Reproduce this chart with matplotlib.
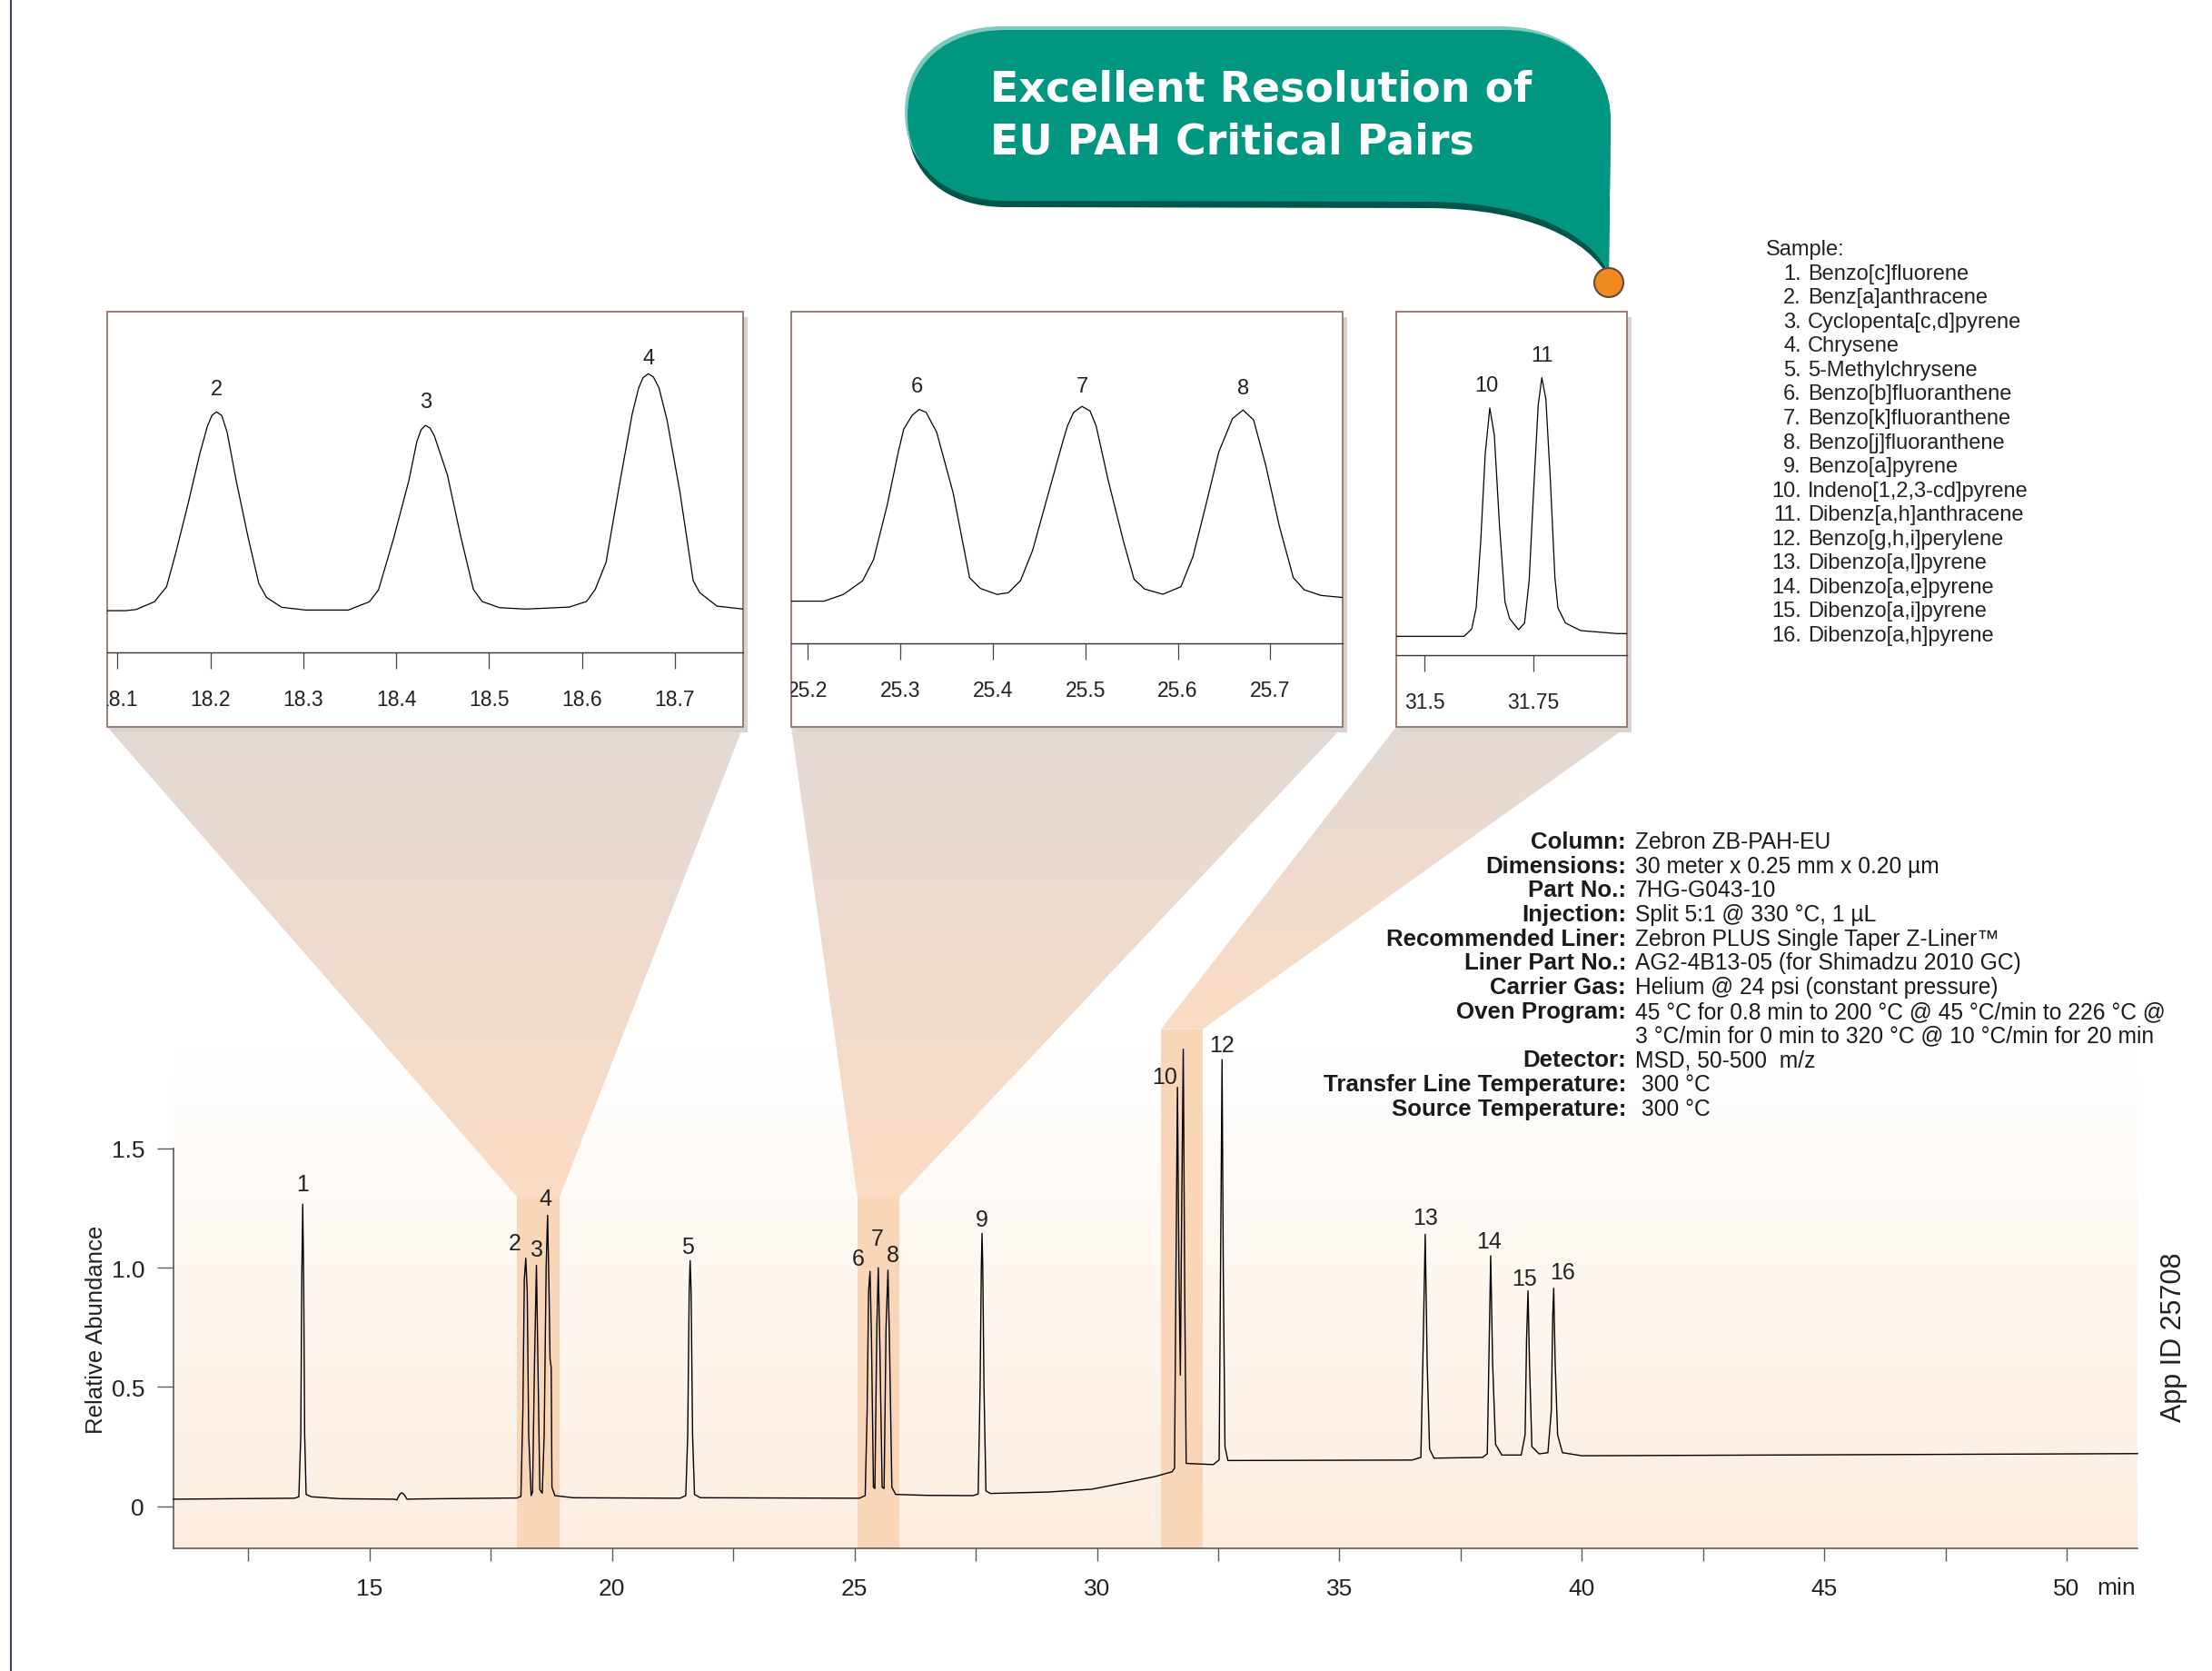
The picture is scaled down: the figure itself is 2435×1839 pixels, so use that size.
import numpy as np
import matplotlib.pyplot as plt
from matplotlib.patches import Rectangle, Polygon, PathPatch, Circle
from matplotlib.path import Path
from matplotlib.transforms import Affine2D
from matplotlib.colors import LinearSegmentedColormap

plt.rcParams['font.family'] = ['Liberation Sans', 'DejaVu Sans']

# ---------------- data ----------------
# main trace (retention time in min, relative abundance)
trace_t = [10.955, 13.45, 13.54, 13.58, 13.60, 13.62, 13.64, 13.66, 13.69, 13.80, 14.40,
           15.50, 15.56, 15.62, 15.66, 15.71, 15.77, 16.00,
           18.04, 18.12, 18.16, 18.19, 18.22, 18.25, 18.28, 18.33,
           18.36, 18.40, 18.44, 18.47, 18.51, 18.56, 18.60, 18.64, 18.67, 18.70, 18.72,
           18.745, 18.76, 18.82, 19.20,
           21.40, 21.52, 21.56, 21.59, 21.61, 21.63, 21.66, 21.70, 21.82,
           25.10, 25.22, 25.26, 25.29, 25.32, 25.35, 25.39, 25.42, 25.46, 25.49, 25.52,
           25.57, 25.61, 25.65, 25.69, 25.72, 25.77, 25.85, 26.50,
           27.45, 27.55, 27.59, 27.615, 27.63, 27.645, 27.67, 27.71, 27.80,
           29.00, 29.90, 30.60, 31.20, 31.55, 31.60, 31.63, 31.66, 31.69, 31.72, 31.75,
           31.78, 31.81, 31.84, 32.40, 32.52, 32.555, 32.58, 32.605, 32.64, 32.70,
           36.50, 36.68, 36.73, 36.77, 36.81, 36.86, 36.95,
           37.95, 38.05, 38.09, 38.12, 38.16, 38.22, 38.35,
           38.75, 38.83, 38.86, 38.89, 38.92, 38.97, 39.12,
           39.30, 39.37, 39.40, 39.42, 39.45, 39.50, 39.60, 40.00, 51.46]
trace_y = [0.030, 0.034, 0.040, 0.30, 0.95, 1.266, 0.95, 0.30, 0.050, 0.040, 0.032,
           0.030, 0.027, 0.050, 0.057, 0.050, 0.030, 0.031,
           0.035, 0.042, 0.40, 0.95, 1.040, 0.90, 0.30, 0.045,
           0.060, 0.60, 1.010, 0.60, 0.070, 0.055, 0.30, 1.000, 1.220, 0.900, 0.620,
           0.580, 0.080, 0.045, 0.036,
           0.034, 0.045, 0.30, 0.90, 1.030, 0.90, 0.30, 0.050, 0.036,
           0.034, 0.045, 0.40, 0.90, 0.985, 0.70, 0.080, 0.075, 0.75, 1.000, 0.70,
           0.080, 0.075, 0.75, 0.990, 0.70, 0.080, 0.050, 0.046,
           0.045, 0.052, 0.50, 1.00, 1.144, 1.00, 0.50, 0.065, 0.054,
           0.060, 0.072, 0.100, 0.125, 0.145, 0.160, 1.00, 1.756, 1.00, 0.55, 1.30,
           1.916, 0.90, 0.180, 0.175, 0.195, 1.20, 1.873, 1.00, 0.25, 0.192,
           0.194, 0.205, 0.70, 1.140, 0.60, 0.240, 0.202,
           0.205, 0.220, 0.70, 1.050, 0.60, 0.260, 0.215,
           0.215, 0.30, 0.70, 0.903, 0.60, 0.250, 0.220,
           0.225, 0.40, 0.80, 0.914, 0.60, 0.300, 0.225, 0.212, 0.221]

peak_ids = [str(i) for i in range(1, 17)]
peak_t = [13.62, 18.22, 18.44, 18.67, 21.61, 25.32, 25.49, 25.69, 27.63,
          31.66, 31.78, 32.58, 36.77, 38.12, 38.89, 39.42]
peak_h = [1.266, 1.04, 1.01, 1.22, 1.03, 0.985, 1.0, 0.99, 1.144,
          1.756, 1.916, 1.873, 1.14, 1.05, 0.903, 0.914]
# label offsets (points)
label_dx = [0, -8.8, 0, -1.4, -2.3, -9.2, -0.7, 4.2, 0, -10.5, -0.7, 0, 0, -1.4, -2.7, 7.3]
label_dy = [16, 12.3, 13, 13.2, 11.2, 10.5, 23, 11.9, 11.2, 8.1, 11.9, 11.5, 13, 11.5, 10.1, 12.9]

x_ticks = [12.5, 15, 17.5, 20, 22.5, 25, 27.5, 30, 32.5, 35, 37.5, 40, 42.5, 45, 47.5, 50]
x_tick_labels = ['', '15', '', '20', '', '25', '', '30', '', '35', '', '40', '', '45', '', '50']
y_ticks = [0, 0.5, 1.0, 1.5]
y_tick_labels = ['0', '0.5', '1.0', '1.5']

# zoomed windows on the main chart
band_x0 = [18.046, 25.06, 31.32]
band_x1 = [18.917, 25.92, 32.18]
band_top = [1.296, 1.296, 2.0]

# inset 1: peaks 2-4
ins1_t = [18.0888, 18.1084, 18.1201, 18.1397, 18.1527, 18.1625, 18.1756, 18.1886, 18.1967,
          18.2016, 18.2065, 18.2121, 18.2179, 18.2277, 18.2407, 18.2521, 18.2603, 18.2766,
          18.3027, 18.3483, 18.3712, 18.3810, 18.3973, 18.4136, 18.4222, 18.4270, 18.4316,
          18.4365, 18.4410, 18.4550, 18.4691, 18.4831, 18.4925, 18.5112, 18.5393, 18.5862,
          18.6049, 18.6143, 18.6260, 18.6400, 18.6541, 18.6610, 18.6658, 18.6714, 18.6770,
          18.6830, 18.6916, 18.7056, 18.7197, 18.7267, 18.7454, 18.7735]
ins1_y = [0.000, 0.000, 0.006, 0.045, 0.120, 0.288, 0.532, 0.791, 0.928,
          0.982, 1.000, 0.982, 0.898, 0.654, 0.365, 0.136, 0.067, 0.017,
          0.003, 0.003, 0.045, 0.105, 0.365, 0.654, 0.850, 0.912, 0.932,
          0.918, 0.880, 0.685, 0.381, 0.107, 0.046, 0.015, 0.008, 0.018,
          0.046, 0.107, 0.244, 0.624, 0.989, 1.120, 1.172, 1.192, 1.175,
          1.120, 0.959, 0.594, 0.152, 0.091, 0.023, 0.008]
ins1_ids = ['2', '3', '4']
ins1_pk_t = [18.2065, 18.4316, 18.6714]
ins1_pk_h = [1.0, 0.932, 1.192]
ins1_ticks = [18.1, 18.2, 18.3, 18.4, 18.5, 18.6, 18.7]
ins1_labels = ['18.1', '18.2', '18.3', '18.4', '18.5', '18.6', '18.7']

# inset 2: peaks 6-8
ins2_t = [25.1822, 25.2178, 25.2386, 25.2593, 25.2712, 25.2860, 25.2980, 25.3038, 25.3127,
          25.3204, 25.3280, 25.3340, 25.3394, 25.3572, 25.3750, 25.3868, 25.4046, 25.4169,
          25.4300, 25.4431, 25.4594, 25.4758, 25.4807, 25.4873, 25.4964, 25.5052, 25.5118,
          25.5249, 25.5413, 25.5527, 25.5642, 25.5838, 25.6034, 25.6165, 25.6296, 25.6444,
          25.6591, 25.6705, 25.6820, 25.6951, 25.7098, 25.7249, 25.7368, 25.7546, 25.7782]
ins2_y = [0.000, 0.000, 0.035, 0.106, 0.217, 0.502, 0.780, 0.897, 0.968,
          1.000, 0.985, 0.930, 0.881, 0.565, 0.122, 0.066, 0.035, 0.044,
          0.107, 0.265, 0.549, 0.834, 0.913, 0.984, 1.016, 0.992, 0.913,
          0.628, 0.312, 0.115, 0.063, 0.036, 0.075, 0.234, 0.486, 0.779,
          0.952, 0.997, 0.945, 0.708, 0.391, 0.122, 0.059, 0.030, 0.019]
ins2_ids = ['6', '7', '8']
ins2_pk_t = [25.3204, 25.4964, 25.6705]
ins2_pk_h = [1.0, 1.016, 0.997]
ins2_ticks = [25.2, 25.3, 25.4, 25.5, 25.6, 25.7]
ins2_labels = ['25.2', '25.3', '25.4', '25.5', '25.6', '25.7']

# inset 3: peaks 10-11
ins3_t = [31.4356, 31.5912, 31.6085, 31.6189, 31.6293, 31.6397, 31.6501, 31.6605, 31.6724,
          31.6849, 31.6953, 31.7161, 31.7298, 31.7403, 31.7507, 31.7611, 31.7694, 31.7786,
          31.7890, 31.7994, 31.8063, 31.8236, 31.8584, 31.9417, 31.9646]
ins3_y = [0.000, 0.000, 0.032, 0.124, 0.415, 0.798, 0.996, 0.877, 0.481,
          0.151, 0.078, 0.029, 0.058, 0.243, 0.639, 1.009, 1.128, 1.036,
          0.679, 0.256, 0.124, 0.058, 0.025, 0.012, 0.012]
ins3_ids = ['10', '11']
ins3_pk_t = [31.6501, 31.7694]
ins3_pk_h = [0.996, 1.128]
ins3_ticks = [31.5, 31.75]
ins3_labels = ['31.5', '31.75']

sample_names = ['Benzo[c]fluorene', 'Benz[a]anthracene', 'Cyclopenta[c,d]pyrene', 'Chrysene',
                '5-Methylchrysene', 'Benzo[b]fluoranthene', 'Benzo[k]fluoranthene',
                'Benzo[j]fluoranthene', 'Benzo[a]pyrene', 'Indeno[1,2,3-cd]pyrene',
                'Dibenz[a,h]anthracene', 'Benzo[g,h,i]perylene', 'Dibenzo[a,l]pyrene',
                'Dibenzo[a,e]pyrene', 'Dibenzo[a,i]pyrene', 'Dibenzo[a,h]pyrene']

info_keys = ['Column:', 'Dimensions:', 'Part No.:', 'Injection:', 'Recommended Liner:',
             'Liner Part No.:', 'Carrier Gas:', 'Oven Program:', '', 'Detector:',
             'Transfer Line Temperature:', 'Source Temperature:']
info_vals = ['Zebron ZB-PAH-EU', '30 meter x 0.25 mm x 0.20 µm', '7HG-G043-10',
             'Split 5:1 @ 330 °C, 1 µL', 'Zebron PLUS Single Taper Z-Liner\u2122',
             'AG2-4B13-05 (for Shimadzu 2010 GC)', 'Helium @ 24 psi (constant pressure)',
             '45 °C for 0.8 min to 200 °C @ 45 °C/min to 226 °C @',
             '3 °C/min for 0 min to 320 °C @ 10 °C/min for 20 min',
             'MSD, 50-500  m/z', ' 300 °C', ' 300 °C']

# ---------------- figure ----------------
W, H = 2435, 1840
fig = plt.figure(figsize=(W / 100, H / 100), dpi=100)
canvas = fig.add_axes([0, 0, 1, 1], zorder=0)
canvas.axis('off')

ax = fig.add_axes([191 / W, (H - 1705) / H, (2353 - 191) / W, (1705 - 1157) / H], zorder=1)
ax.set_facecolor('none')
ax.set_xlim(10.955, 51.46)
ax.set_ylim(-0.176, 1.911)


def to_canvas(x, y):
    dx, dy = ax.transData.transform((x, y))
    return dx, H - dy


def vgrad(x0, x1, ytop, ybot, ctop, cbot, clip=None):
    cmap = LinearSegmentedColormap.from_list('g', [ctop, cbot])
    im = canvas.imshow(np.linspace(0, 1, 256).reshape(-1, 1), cmap=cmap,
                       extent=(x0, x1, ybot, ytop), origin='upper', aspect='auto',
                       interpolation='bilinear', zorder=0)
    if clip is not None:
        im.set_clip_path(clip)
    return im


# main background gradient
vgrad(191, 2353, 1157, 1705, '#ffffff', '#fdeee0')

# inset boxes
boxes = [(118, 818, 719), (871, 1478, 709), (1537, 1791, 722)]  # left, right, axis line y
box_top, box_bot = 344, 801
box_patches = []
for bl, br, _ in boxes:
    canvas.add_patch(Rectangle((bl + 5, box_top + 6), br - bl, box_bot - box_top,
                               facecolor='#d9d3d0', edgecolor='none', zorder=1))
    bp = Rectangle((bl, box_top), br - bl, box_bot - box_top, facecolor='white',
                   edgecolor='#8b6a5c', lw=1.2, zorder=2)
    canvas.add_patch(bp)
    box_patches.append(bp)

# connectors from insets down to the highlighted windows
for (bl, br, _), x0, x1, top in zip(boxes, band_x0, band_x1, band_top):
    px0, py = to_canvas(x0, top)
    px1, _ = to_canvas(x1, top)
    poly = Polygon([(bl, box_bot), (br, box_bot), (px1, py), (px0, py)], closed=True,
                   facecolor='none', edgecolor='none')
    canvas.add_patch(poly)
    vgrad(min(bl, px0), max(br, px1), box_bot, py, '#e3d9d5', '#fbdcc4', clip=poly)

# speech bubble title
verts = [(1107, 34), (1655, 34), (1722, 34), (1773, 72), (1773, 132), (1771, 300),
         (1748, 258), (1685, 224), (1573, 223), (1107, 222), (1040, 222), (999, 185),
         (999, 128), (999, 72), (1040, 34), (1107, 34), (1107, 34)]
codes = [Path.MOVETO, Path.LINETO, Path.CURVE4, Path.CURVE4, Path.CURVE4, Path.LINETO,
         Path.CURVE4, Path.CURVE4, Path.CURVE4, Path.LINETO, Path.CURVE4, Path.CURVE4,
         Path.CURVE4, Path.CURVE4, Path.CURVE4, Path.CURVE4, Path.CLOSEPOLY]
bubble = Path(verts, codes)
canvas.add_patch(PathPatch(bubble.transformed(Affine2D().translate(0, 7)),
                           facecolor='#00564a', edgecolor='none', zorder=3))
canvas.add_patch(PathPatch(bubble.transformed(Affine2D().translate(-3, -4)),
                           facecolor='#7fcabd', edgecolor='none', zorder=3))
canvas.add_patch(PathPatch(bubble, facecolor='#009680', edgecolor='none', zorder=4))
canvas.add_patch(Circle((1771, 312), 16, facecolor='#f28a22', edgecolor='#6b4535',
                        lw=1.5, zorder=5))
canvas.text(1090, 112, 'Excellent Resolution of', family='DejaVu Sans', weight='bold',
            fontsize=33, color='white', va='baseline', ha='left', zorder=6)
canvas.text(1090, 169, 'EU PAH Critical Pairs', family='DejaVu Sans', weight='bold',
            fontsize=33, color='white', va='baseline', ha='left', zorder=6)

# page border line
canvas.plot([12, 12], [0, H], color='#44445a', lw=1.5)

# sample list
canvas.text(1944, 275, 'Sample:', fontsize=17, va='center', ha='left', color='#222222')
for i, name in enumerate(sample_names):
    y = 301.7 + i * 26.55
    canvas.text(1983, y, f'{i + 1}.', fontsize=17, va='center', ha='right', color='#222222')
    canvas.text(1990, y, name, fontsize=17, va='center', ha='left', color='#222222')

# method conditions
for i, (k, v) in enumerate(zip(info_keys, info_vals)):
    y = 927 + i * 26.7
    canvas.text(1790, y, k, fontsize=18.6, weight='bold', va='center', ha='right',
                color='#1a1a1a', zorder=6)
    canvas.text(1800, y, v, fontsize=17.7, va='center', ha='left', color='#1a1a1a', zorder=6)

canvas.text(106, 1463, 'Relative Abundance', fontsize=18.5, rotation=90, va='center',
            ha='center', color='#222222')
canvas.text(2393, 1472, 'App ID 25708', fontsize=22, rotation=90, va='center',
            ha='center', color='#222222')
canvas.text(2330, 1748, 'min', fontsize=19, va='center', ha='center', color='#222222')

canvas.set_xlim(0, W)
canvas.set_ylim(H, 0)

# ---------------- main chromatogram ----------------
ylo = ax.get_ylim()[0]
for x0, x1, top in zip(band_x0, band_x1, band_top):
    ax.add_patch(Rectangle((x0, ylo), x1 - x0, top - ylo, facecolor='#fad6b8',
                           edgecolor='none', clip_on=False, zorder=1))
ax.plot(trace_t, trace_y, color='black', lw=1.0, clip_on=False, zorder=3)
for pid, t, h, dx, dy in zip(peak_ids, peak_t, peak_h, label_dx, label_dy):
    ax.annotate(pid, (t, h), xytext=(dx, dy), textcoords='offset points',
                ha='center', va='center', fontsize=18, color='#222222', zorder=4)

ax.set_xticks(x_ticks)
ax.set_xticklabels(x_tick_labels)
ax.set_yticks(y_ticks)
ax.set_yticklabels(y_tick_labels)
for s in ['top', 'right']:
    ax.spines[s].set_visible(False)
ax.spines['left'].set_bounds(ylo, 1.5)
for s in ['left', 'bottom']:
    ax.spines[s].set_color('#5a5a5a')
    ax.spines[s].set_linewidth(1.2)
ax.tick_params(axis='x', direction='out', length=10, width=1, color='#5a5a5a',
               pad=13, labelsize=19, labelcolor='#222222')
ax.tick_params(axis='y', direction='out', length=13, width=1, color='#5a5a5a',
               pad=10, labelsize=19, labelcolor='#222222')

# ---------------- insets ----------------
insets = [
    (ins1_t, ins1_y, ins1_ids, ins1_pk_t, ins1_pk_h, ins1_ticks, ins1_labels,
     (18.0888, 18.7735), (-0.21, 1.504), [(0, 18), (0, 18.7), (0, 12.2)]),
    (ins2_t, ins2_y, ins2_ids, ins2_pk_t, ins2_pk_h, ins2_ticks, ins2_labels,
     (25.1822, 25.7782), (-0.22, 1.51), [(-2, 18.7), (0, 15.8), (0, 17.3)]),
    (ins3_t, ins3_y, ins3_ids, ins3_pk_t, ins3_pk_h, ins3_ticks, ins3_labels,
     (31.4356, 31.9646), (-0.082, 1.416), [(-2.4, 18), (0, 18)]),
]
for (bl, br, axis_y), bp, spec in zip(boxes, box_patches, insets):
    t, y, ids, pt, ph, ticks, labels, xl, yl, offs = spec
    ia = fig.add_axes([bl / W, (H - axis_y) / H, (br - bl) / W, (axis_y - box_top) / H],
                      zorder=2)
    ia.set_facecolor('none')
    ia.plot(t, y, color='black', lw=0.9)
    for pid, x0, h, (dx, dy) in zip(ids, pt, ph, offs):
        ia.annotate(pid, (x0, h), xytext=(dx, dy), textcoords='offset points',
                    ha='center', va='center', fontsize=17, color='#222222')
    ia.set_xlim(*xl)
    ia.set_ylim(*yl)
    ia.set_yticks([])
    ia.set_xticks(ticks)
    ia.set_xticklabels(labels)
    for s in ['top', 'left', 'right']:
        ia.spines[s].set_visible(False)
    ia.spines['bottom'].set_color('#333333')
    ia.spines['bottom'].set_linewidth(1.0)
    ia.tick_params(axis='x', direction='out', length=13, width=0.9, color='#444444',
                   pad=16, labelsize=16.5, labelcolor='#222222')
    for lbl in ia.get_xticklabels():
        lbl.set_clip_path(bp)

fig.savefig('out.png', dpi=100)
